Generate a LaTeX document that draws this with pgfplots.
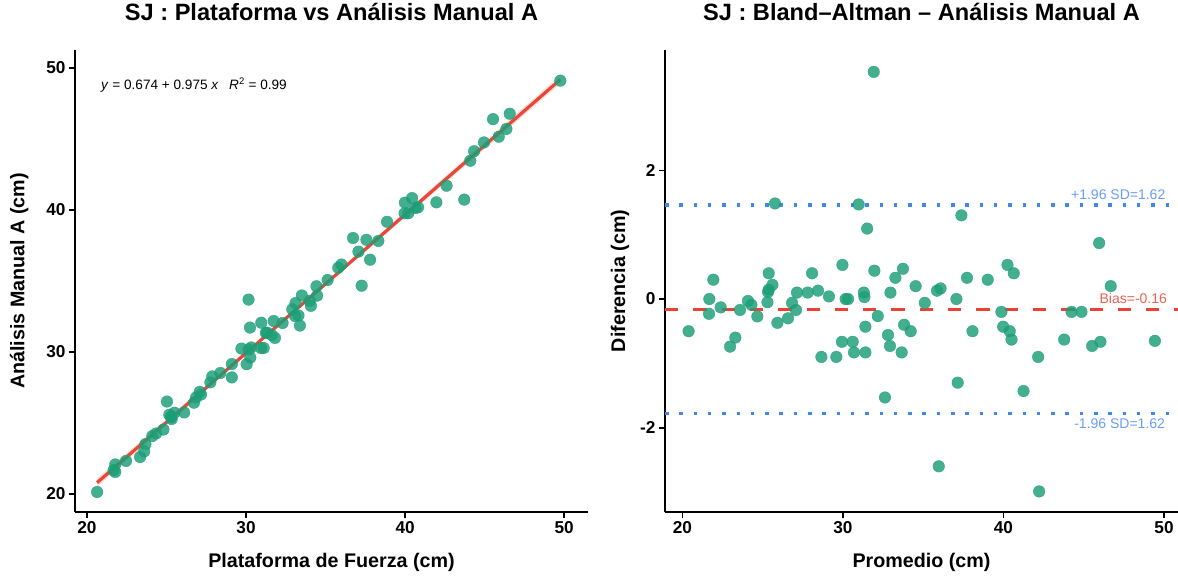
\documentclass[border=0pt]{standalone}
\usepackage{fontspec}
\setmainfont{Liberation Sans}
\usepackage{pgfplots}
\usepackage{pgfplotstable}
\pgfplotsset{compat=1.18}

\definecolor{ptgreen}{RGB}{27,158,119}
\definecolor{fitred}{RGB}{231,72,56}
\definecolor{biasred}{RGB}{234,67,53}
\definecolor{loablue}{RGB}{66,133,244}

% Plataforma de Fuerza (x) vs Analisis Manual A (y), cm
\pgfplotstableread{
x y
20.64 20.14
21.78 22.08
21.68 21.68
21.78 21.55
22.46 22.33
23.60 23.00
23.34 22.60
23.68 23.51
24.11 24.08
24.35 24.26
24.81 24.54
25.18 25.58
25.50 25.72
25.31 25.45
25.29 25.40
25.33 25.28
26.11 25.74
26.73 26.43
26.86 26.80
27.17 27.00
27.09 27.19
27.76 27.86
28.39 28.52
27.88 28.28
29.11 29.15
29.71 30.24
29.11 28.21
30.04 29.14
30.27 29.61
30.94 30.28
31.11 30.28
31.82 30.99
30.17 30.17
30.32 30.32
31.25 31.35
31.33 31.36
31.74 32.18
31.62 31.19
32.30 32.04
32.91 33.01
33.11 33.44
33.51 33.98
33.09 32.53
33.30 32.57
34.01 33.61
34.47 33.97
34.08 33.25
34.43 34.63
35.13 35.07
35.80 35.93
36.00 36.16
37.57 37.90
37.07 37.07
38.32 37.82
38.87 39.17
39.99 40.52
40.44 40.84
39.97 39.77
40.20 39.77
40.64 40.14
40.82 40.19
42.61 41.71
46.58 46.78
44.34 44.14
44.96 44.76
44.10 43.47
45.89 45.16
46.37 45.71
49.76 49.11
30.16 33.69
25.03 26.51
30.25 31.72
30.96 32.06
36.73 38.03
45.53 46.40
37.27 34.67
43.72 40.73
37.80 36.50
41.97 40.54
33.39 31.86
}\scatterdata

% Bland-Altman: mean of both methods and difference (A - plataforma), cm
\pgfplotstableread{
m d
20.39 -0.50
21.93 0.30
21.68 0.00
21.66 -0.23
22.39 -0.13
23.30 -0.60
22.97 -0.74
23.59 -0.17
24.09 -0.03
24.30 -0.09
24.67 -0.27
25.38 0.40
25.61 0.22
25.38 0.145
25.34 0.11
25.30 -0.05
25.92 -0.37
26.58 -0.30
26.83 -0.06
27.08 -0.17
27.14 0.10
27.81 0.10
28.45 0.13
28.08 0.40
29.13 0.04
29.97 0.53
28.66 -0.90
29.59 -0.90
29.94 -0.665
30.61 -0.665
30.69 -0.83
31.40 -0.83
30.17 0.00
30.32 0.00
31.30 0.10
31.34 0.03
31.96 0.44
31.40 -0.43
32.17 -0.265
32.96 0.10
33.27 0.33
33.74 0.47
32.81 -0.56
32.93 -0.73
33.81 -0.40
34.22 -0.50
33.66 -0.83
34.53 0.20
35.10 -0.06
35.86 0.13
36.08 0.165
37.73 0.33
37.07 0.00
38.07 -0.50
39.02 0.30
40.25 0.53
40.64 0.40
39.87 -0.20
39.98 -0.43
40.39 -0.50
40.50 -0.63
42.16 -0.90
46.68 0.20
44.24 -0.20
44.86 -0.20
43.78 -0.63
45.52 -0.73
46.04 -0.665
49.43 -0.65
31.92 3.53
25.77 1.485
30.98 1.47
31.51 1.095
37.38 1.30
45.96 0.87
35.97 -2.60
42.22 -2.99
37.15 -1.30
41.25 -1.43
32.62 -1.53
}\badata

\pgfplotsset{
  panel/.style={
    scale only axis, width=513pt, height=462pt,
    axis lines=left, axis line style={-, line width=1.6pt, black},
    tick align=outside, major tick length=6pt,
    tick style={line width=1.6pt, black},
    ticklabel style={font=\fontsize{17.2}{17.2}\selectfont\bfseries},
    label style={font=\fontsize{19.7}{19.7}\selectfont\bfseries},
    title style={font=\fontsize{23.6}{23.6}\selectfont\bfseries,
      at={(axis description cs:0.5,1.069)}, anchor=center},
    /pgf/number format/assume math mode=true,
  },
  pts/.style={only marks, mark=*, mark size=5.8pt,
    mark options={fill=ptgreen, draw=ptgreen, fill opacity=0.82, draw opacity=0.82}},
}

\begin{document}
\begin{tikzpicture}

% Scatter with regression line
\begin{axis}[panel, at={(75pt,64pt)}, anchor=south west,
  xmin=19.25, xmax=51.5, ymin=18.73, ymax=51.27,
  xtick={20,30,40,50}, ytick={20,30,40,50},
  title={SJ : Plataforma vs Análisis Manual A},
  xlabel={Plataforma de Fuerza (cm)},
  ylabel={Análisis Manual A (cm)},
  xlabel style={at={(axis description cs:0.5,-0.110)}, anchor=center},
  ylabel style={at={(axis description cs:-0.109,0.5)}, anchor=center},
]
\addplot[pts] table[x=x, y=y] {\scatterdata};
% confidence band of the fit, upper edge then lower edge back
\addplot[draw=none, fill=fitred, fill opacity=0.18] coordinates {
  (20.64,21.10) (25,25.27) (30,30.03) (31.3,31.28) (35,34.92) (40,39.88) (45,44.82) (49.76,49.50)
  (49.76,48.88) (45,44.28) (40,39.47) (35,34.68) (31.3,31.10) (30,29.82) (25,24.83) (20.64,20.50)} -- cycle;
\addplot[fitred, line width=3.2pt] coordinates {(20.64,20.798) (49.76,49.190)};
\node[anchor=west, inner sep=0pt, font=\fontsize{13.6}{13.6}\selectfont] at (axis cs:20.88,48.8)
  {\textit{y} = 0.674 + 0.975 \textit{x}\enspace\ \textit{R}\textsuperscript{2} = 0.99};
\end{axis}

% Bland-Altman
\begin{axis}[panel, at={(665pt,64pt)}, anchor=south west,
  xmin=18.92, xmax=50.87, ymin=-3.31, ymax=3.87,
  xtick={20,30,40,50}, ytick={-2,0,2}, yticklabels={-2,0,2},
  title={SJ : Bland–Altman – Análisis Manual A},
  xlabel={Promedio (cm)},
  ylabel={Diferencia (cm)},
  xlabel style={at={(axis description cs:0.5,-0.110)}, anchor=center},
  ylabel style={at={(axis description cs:-0.0877,0.5)}, anchor=center},
]
\addplot[pts] table[x=m, y=d] {\badata};
\addplot[biasred, line width=3.5pt, dash pattern=on 13.3pt off 15pt]
  coordinates {(18.92,-0.16) (50.87,-0.16)};
\addplot[loablue, line width=3.5pt, dash pattern=on 3.5pt off 10.8pt]
  coordinates {(18.92,1.46) (50.87,1.46)};
\addplot[loablue, line width=3.5pt, dash pattern=on 3.5pt off 10.8pt]
  coordinates {(18.92,-1.78) (50.87,-1.78)};
\node[anchor=east, text=loablue!80!white, font=\fontsize{14}{14}\selectfont]
  at (axis cs:50.3,1.614) {+1.96 SD=1.62};
\node[anchor=east, text=biasred!85!white, font=\fontsize{14}{14}\selectfont]
  at (axis cs:50.4,0.01) {Bias=-0.16};
\node[anchor=east, text=loablue!80!white, font=\fontsize{14}{14}\selectfont]
  at (axis cs:50.28,-1.93) {-1.96 SD=1.62};
\end{axis}

\pgfresetboundingbox
\useasboundingbox (0,0) rectangle (1178pt,576pt);
\end{tikzpicture}
\end{document}
